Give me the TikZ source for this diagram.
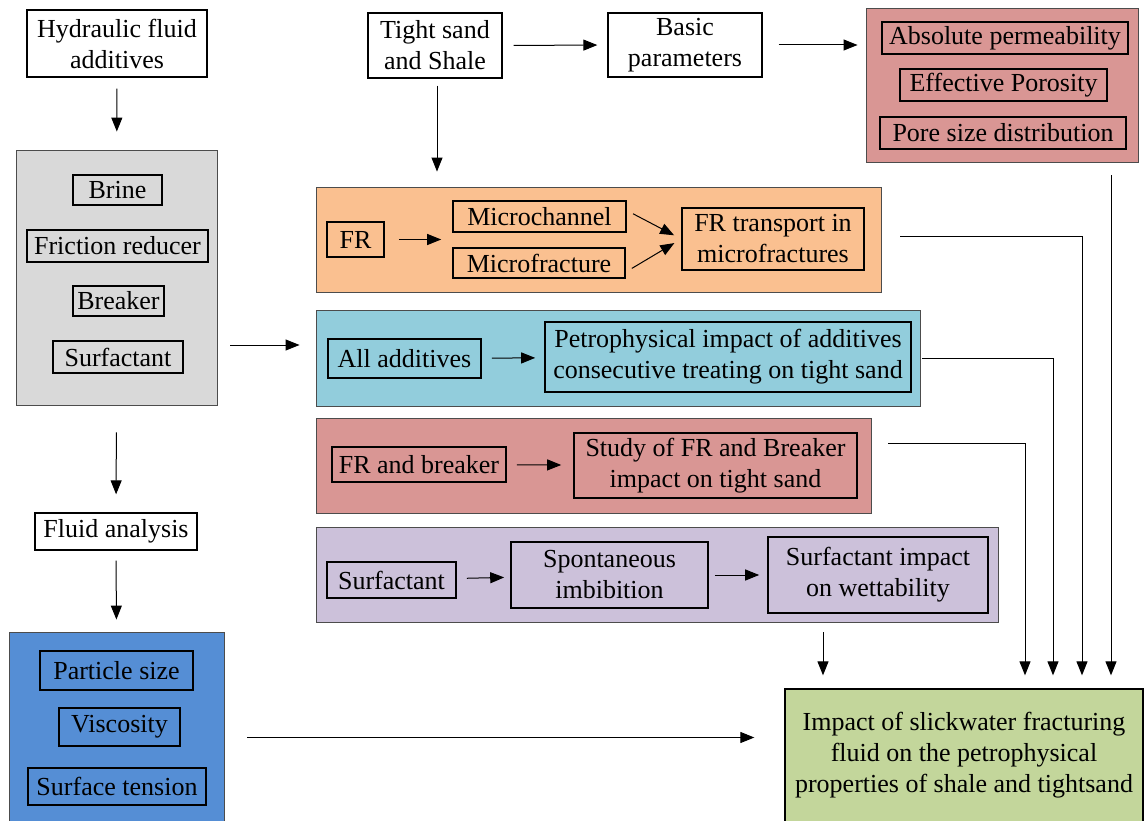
\documentclass[tikz,border=0pt]{standalone}
\usepackage{fontspec}
\setmainfont{Liberation Serif}
\usetikzlibrary{positioning, arrows.meta}

\definecolor{greybg}{HTML}{D9D9D9}
\definecolor{bluebg}{HTML}{558ED5}
\definecolor{rosebg}{HTML}{D99694}
\definecolor{orangebg}{HTML}{FAC090}
\definecolor{cyanbg}{HTML}{92CDDC}
\definecolor{lilacbg}{HTML}{CCC1DA}
\definecolor{greenbg}{HTML}{C3D69B}

\begin{document}
\begin{tikzpicture}[x=1pt, y=-1pt,
        every node/.style={font=\fontsize{26}{31}\selectfont},
        plain/.style={draw, line width=1.3pt, align=center, inner sep=0pt},
        group/.style={draw=black!70, line width=0.9pt, inner sep=0pt},
        item/.style={draw, line width=1.6pt, align=center, inner sep=0pt},
        arr/.style={-{Triangle[length=14pt, width=11pt]}, line width=1pt}]

        \useasboundingbox (0,0) rectangle (1146,821);

        % left column
        \node[plain, minimum width=180, minimum height=67] (hydraulic) at (117,43.5) {Hydraulic fluid\\additives};

        \node[group, fill=greybg, minimum width=201, minimum height=255] (additives) at (116.5,277.5) {};
        \node[item, minimum width=89, minimum height=30] (brine) at (117.5,190) {Brine};
        \node[item, minimum width=181, minimum height=32] (friction) at (117.5,246) {Friction reducer};
        \node[item, minimum width=91, minimum height=30] (breaker) at (118.5,301) {Breaker};
        \node[item, minimum width=130, minimum height=32] (surfactant) at (118,357) {Surfactant};

        \node[plain, minimum width=162, minimum height=37] (fluid) at (116,531.5) {Fluid analysis};

        \node[group, fill=bluebg, minimum width=215, minimum height=192] (props) at (116.5,728) {};
        \node[item, minimum width=153, minimum height=39] (particle) at (116.5,670.5) {Particle size};
        \node[item, minimum width=121, minimum height=38] (viscosity) at (119.5,727) {Viscosity};
        \node[item, minimum width=178, minimum height=37] (tension) at (117,786.5) {Surface tension};

        % top row
        \node[plain, minimum width=134, minimum height=65] (tight) at (435,45.5) {Tight sand\\and Shale};
        \node[plain, minimum width=154, minimum height=64] (basic) at (685,45) {Basic\\parameters};

        \node[group, fill=rosebg, minimum width=272, minimum height=154] (params) at (1002,85) {};
        \node[item, minimum width=246, minimum height=32] (permeability) at (1005,38) {Absolute permeability};
        \node[item, minimum width=207, minimum height=32] (porosity) at (1003.5,85) {Effective Porosity};
        \node[item, minimum width=246, minimum height=32] (poresize) at (1003,133) {Pore size distribution};

        % FR transport
        \node[group, fill=orangebg, minimum width=565, minimum height=105] (frgrp) at (598.5,239.5) {};
        \node[item, minimum width=57, minimum height=35] (frbox) at (355.5,239.5) {FR};
        \node[item, minimum width=173, minimum height=31] (mchan) at (539.5,216.5) {Microchannel};
        \node[item, minimum width=172, minimum height=30] (mfrac) at (539,263) {Microfracture};
        \node[item, minimum width=182, minimum height=62] (frtrans) at (773,239) {FR transport in\\microfractures};

        % all additives
        \node[group, fill=cyanbg, minimum width=604, minimum height=96] (allgrp) at (618,358) {};
        \node[item, minimum width=153, minimum height=39] (alladd) at (404.5,358.5) {All additives};
        \node[item, minimum width=366, minimum height=70] (petro) at (728,357) {Petrophysical impact of additives\\consecutive treating on tight sand};

        % FR and breaker
        \node[group, fill=rosebg, minimum width=555, minimum height=95] (brkgrp) at (593.5,465.5) {};
        \node[item, minimum width=174, minimum height=35] (frbrk) at (419,464.5) {FR and breaker};
        \node[item, minimum width=283, minimum height=65] (study) at (715.5,465.5) {Study of FR and Breaker\\impact on tight sand};

        % surfactant
        \node[group, fill=lilacbg, minimum width=682, minimum height=95] (surfgrp) at (657,574.5) {};
        \node[item, minimum width=129, minimum height=36] (surf) at (391.5,580) {Surfactant};
        \node[item, minimum width=197, minimum height=66] (spont) at (609.5,575) {Spontaneous\\imbibition};
        \node[item, minimum width=220, minimum height=76] (surfimp) at (878,575) {Surfactant impact\\on wettability};

        % result
        \node[group, draw=black, line width=1.3pt, fill=greenbg, minimum width=358, minimum height=133, align=center] (result) at (964,755.5) {Impact of slickwater fracturing\\fluid on the petrophysical\\properties of shale and tightsand};

        \coordinate (resin) at ([yshift=18pt]result.west);
        \coordinate (addout) at ([yshift=13pt]allgrp.west);
        \coordinate (surfin) at ([xshift=-141pt]result.north);
        \coordinate (brkin) at ([xshift=61pt]result.north);
        \coordinate (allin) at ([xshift=89pt]result.north);
        \coordinate (frin) at ([xshift=118pt]result.north);
        \coordinate (parin) at ([xshift=147pt]result.north);
        \coordinate (brkout) at ([yshift=22pt]brkgrp.east);

        \draw[arr, shorten <=11pt, shorten >=18pt] (hydraulic) -- (additives);
        \draw[arr, shorten <=27pt, shorten >=18pt] (additives.south) -- (fluid.north);
        \draw[arr, shorten <=10pt, shorten >=12pt] (fluid.south) -- (props.north);
        \draw[arr, shorten <=13pt, shorten >=16pt] (addout -| additives.east) -- (addout);
        \draw[arr, shorten <=23pt, shorten >=30pt] (resin -| props.east) -- (resin);

        \draw[arr, shorten <=11pt, shorten >=10pt] (tight.east) -- (basic.west);
        \draw[arr, shorten <=16pt, shorten >=8pt] (basic.east) -- (basic.east -| params.west);
        \draw[arr, shorten <=7pt, shorten >=15pt] ([xshift=2pt]tight.south) -- ([xshift=2pt]tight.south |- frgrp.north);

        \draw[arr, shorten <=14pt, shorten >=11pt] (frbox.east) -- (frbox.east -| mchan.west);
        \draw[arr, shorten <=7pt, shorten >=8pt] ([yshift=6pt]mchan.east) -- (frtrans.west);
        \draw[arr, shorten <=7pt, shorten >=8pt] ([yshift=-9pt]mfrac.east) -- (frtrans.west);
        \draw[arr, shorten <=10pt, shorten >=9pt] (alladd) -- (petro);
        \draw[arr, shorten <=10pt, shorten >=12pt] (frbrk) -- (study);
        \draw[arr, shorten <=10pt, shorten >=6pt] (surf) -- (spont);
        \draw[arr, shorten <=6pt, shorten >=8pt] (spont) -- (surfimp);

        \draw[arr, shorten <=10pt, shorten >=13pt] (surfin |- surfgrp.south) -- (surfin);
        \draw[arr, shorten <=17pt, shorten >=13pt] (brkout) -| (brkin);
        \draw[arr, shorten <=2pt, shorten >=13pt] (allgrp.east) -| (allin);
        \draw[arr, shorten <=19pt, shorten >=13pt] ([yshift=3pt]frgrp.east) -| (frin);
        \draw[arr, shorten <=13pt, shorten >=13pt] (parin |- params.south) -- (parin);

    \end{tikzpicture}
\end{document}
